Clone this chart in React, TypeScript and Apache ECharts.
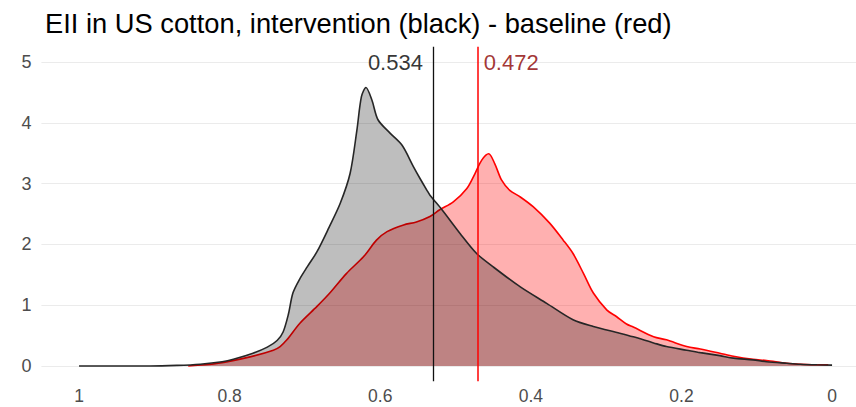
import React, { useEffect, useRef } from "react";
import * as echarts from "echarts";

// EII density estimates, [EII value, density]
const interventionDensity: [number, number][] = [
  [1.0, 0], [0.95, 0], [0.906, 0.0], [0.87, 0.01], [0.839, 0.03], [0.81, 0.07],
  [0.795, 0.11], [0.769, 0.21], [0.75, 0.31], [0.737, 0.42], [0.729, 0.56],
  [0.722, 0.85], [0.716, 1.2], [0.707, 1.43], [0.697, 1.63], [0.684, 1.88],
  [0.668, 2.28], [0.653, 2.68], [0.64, 3.17], [0.631, 3.88], [0.625, 4.43],
  [0.619, 4.58], [0.611, 4.37], [0.603, 4.05], [0.587, 3.83], [0.571, 3.63],
  [0.556, 3.28], [0.547, 3.08], [0.538, 2.89], [0.534, 2.81], [0.518, 2.57],
  [0.494, 2.18], [0.472, 1.85], [0.45, 1.63], [0.414, 1.3], [0.379, 1.03],
  [0.344, 0.76], [0.317, 0.65], [0.282, 0.54], [0.264, 0.48], [0.237, 0.38],
  [0.22, 0.32], [0.193, 0.26], [0.175, 0.22], [0.149, 0.17], [0.131, 0.13],
  [0.105, 0.1], [0.087, 0.07], [0.06, 0.045], [0.042, 0.03], [0.02, 0.02],
  [0.0, 0.015],
];

const baselineDensity: [number, number][] = [
  [0.855, 0], [0.817, 0.04], [0.773, 0.15], [0.742, 0.26], [0.733, 0.32],
  [0.724, 0.43], [0.707, 0.7], [0.684, 0.98], [0.667, 1.2], [0.645, 1.52],
  [0.622, 1.8], [0.605, 2.07], [0.591, 2.21], [0.569, 2.32], [0.552, 2.37],
  [0.534, 2.46], [0.521, 2.57], [0.503, 2.7], [0.485, 2.92], [0.474, 3.17],
  [0.465, 3.39], [0.456, 3.49], [0.448, 3.33], [0.439, 3.06], [0.428, 2.89],
  [0.414, 2.78], [0.397, 2.62], [0.375, 2.35], [0.357, 2.07], [0.344, 1.85],
  [0.33, 1.52], [0.317, 1.2], [0.299, 0.92], [0.286, 0.81], [0.273, 0.69],
  [0.264, 0.64], [0.237, 0.48], [0.22, 0.43], [0.193, 0.32], [0.175, 0.28],
  [0.149, 0.21], [0.131, 0.16], [0.105, 0.11], [0.087, 0.09], [0.06, 0.045],
  [0.042, 0.03], [0.016, 0.02], [0.005, 0.02],
];

// Mean EII of each scenario
const interventionMean = 0.534;
const baselineMean = 0.472;
const labelHeight = 5;

const xTicks = [0, 0.2, 0.4, 0.6, 0.8, 1];
const yTicks = [0, 1, 2, 3, 4, 5];

const FONT = "'Liberation Sans', Arial, sans-serif";

export default function App() {
  const ref = useRef<HTMLDivElement>(null);

  useEffect(() => {
    if (!ref.current) return;
    const chart = echarts.init(ref.current, undefined, { renderer: "svg" });
    chart.setOption({
      animation: false,
      backgroundColor: "#ffffff",
      textStyle: { fontFamily: FONT },
      title: {
        text: "EII in US cotton, intervention (black) - baseline (red)",
        left: 40,
        top: 5,
        textStyle: { fontFamily: FONT, fontSize: 27.3, fontWeight: "normal", color: "#000000" },
      },
      grid: {
        left: 41.4,
        top: 46.8,
        width: 828.3,
        height: 334.4,
        containLabel: false,
        outerBoundsMode: "none",
      },
      xAxis: {
        type: "value",
        min: -0.05,
        max: 1.05,
        inverse: true,
        axisLine: { show: false },
        axisTick: { show: false, customValues: xTicks },
        splitLine: { show: false },
        axisLabel: {
          customValues: xTicks,
          color: "#4d4d4d",
          fontSize: 17.5,
          lineHeight: 14,
          fontFamily: FONT,
          margin: 8,
        },
      },
      yAxis: {
        type: "value",
        min: -0.25,
        max: 5.25,
        axisLine: { show: false },
        axisTick: { show: false, customValues: yTicks },
        splitLine: { show: true, lineStyle: { color: "#ebebeb", width: 1.1 } },
        axisLabel: {
          customValues: yTicks,
          color: "#4d4d4d",
          fontSize: 18,
          fontFamily: FONT,
          margin: 10,
        },
      },
      series: [
        {
          name: "baseline",
          type: "line",
          data: baselineDensity,
          smooth: 0.3,
          symbol: "none",
          lineStyle: { color: "#ff0000", width: 1.6 },
          areaStyle: { color: "#ff0000", opacity: 0.31, origin: 0 },
          z: 2,
        },
        {
          name: "intervention",
          type: "line",
          data: interventionDensity,
          smooth: 0.3,
          symbol: "none",
          lineStyle: { color: "#262626", width: 1.6 },
          areaStyle: { color: "#000000", opacity: 0.255, origin: 0 },
          z: 3,
          markLine: {
            silent: true,
            symbol: "none",
            label: { show: false },
            data: [
              { xAxis: interventionMean, lineStyle: { color: "#111111", width: 1.3, type: "solid" } },
              { xAxis: baselineMean, lineStyle: { color: "#ff0000", width: 1.5, type: "solid" } },
            ],
          },
        },
        {
          name: "means",
          type: "scatter",
          symbolSize: 0,
          z: 4,
          silent: true,
          data: [
            {
              value: [interventionMean, labelHeight],
              label: { position: "left", color: "#000000" },
            },
            {
              value: [baselineMean, labelHeight],
              label: { position: "right", color: "#8b0000" },
            },
          ],
          label: {
            show: true,
            distance: 7,
            fontSize: 22,
            fontFamily: FONT,
            formatter: (p: any) => p.value[0].toFixed(3),
          },
        },
      ],
    });
    return () => chart.dispose();
  }, []);

  return (
    <div
      ref={ref}
      style={{ position: "fixed", left: 0, top: 0, width: 856, height: 407 }}
    />
  );
}
